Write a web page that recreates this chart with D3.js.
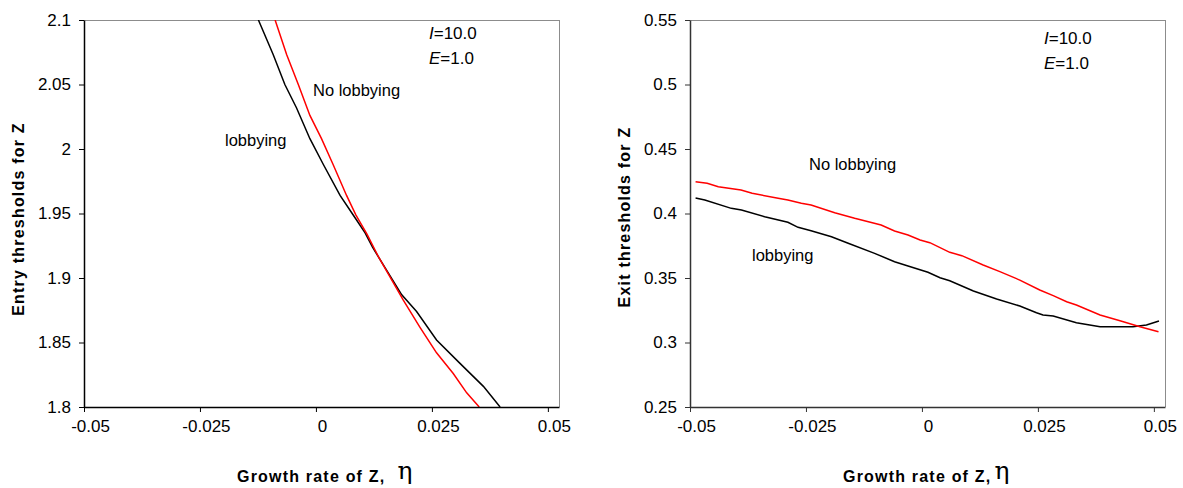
<!DOCTYPE html>
<html>
<head>
<meta charset="utf-8">
<script src="https://cdn.jsdelivr.net/npm/d3@7"></script>
<style>
  html, body { margin: 0; padding: 0; background: #fff; }
  svg { display: block; }
  text { font-family: "Liberation Sans", Arial, sans-serif; fill: #000; }
</style>
</head>
<body>
<svg id="chart" width="1183" height="488"></svg>
<script>
// Growth rate of Z (eta) axis
const etaTicks = [-0.05, -0.025, 0, 0.025, 0.05];
const etaTickLabels = ["-0.05", "-0.025", "0", "0.025", "0.05"];

// Entry thresholds panel
const entryTicks = [1.8, 1.85, 1.9, 1.95, 2.0, 2.05, 2.1];
const entryTickLabels = ["1.8", "1.85", "1.9", "1.95", "2", "2.05", "2.1"];
const entryLobbyEta = [-0.0124, -0.0092, -0.0067, -0.0042, -0.0013, 0.0016, 0.0052, 0.0080, 0.0106, 0.0122, 0.0137, 0.0185, 0.0217, 0.0260, 0.0310, 0.0361, 0.0397];
const entryLobby    = [2.100, 2.073, 2.050, 2.032, 2.008, 1.988, 1.964, 1.949, 1.935, 1.924, 1.915, 1.887, 1.874, 1.852, 1.834, 1.816, 1.800];
const entryNoLobbyEta = [-0.0088, -0.0063, -0.0038, -0.0013, 0.0012, 0.0037, 0.0066, 0.0086, 0.0110, 0.0134, 0.0188, 0.0224, 0.0260, 0.0296, 0.0325, 0.0352];
const entryNoLobby    = [2.100, 2.073, 2.050, 2.026, 2.008, 1.988, 1.964, 1.949, 1.934, 1.917, 1.883, 1.862, 1.842, 1.826, 1.811, 1.800];

// Exit thresholds panel
const exitTicks = [0.25, 0.3, 0.35, 0.4, 0.45, 0.5, 0.55];
const exitTickLabels = ["0.25", "0.3", "0.35", "0.4", "0.45", "0.5", "0.55"];
const exitLobbyEta = [-0.0488, -0.0468, -0.0411, -0.0389, -0.0339, -0.0289, -0.0267, -0.0239, -0.0195, -0.0159, -0.0102, -0.0059, -0.0030, 0.0013, 0.0039, 0.0060, 0.0111, 0.0161, 0.0211, 0.0247, 0.0261, 0.0283, 0.0333, 0.0384, 0.0455, 0.0484, 0.0511];
const exitLobby    = [0.4120, 0.4105, 0.4040, 0.4027, 0.3975, 0.3932, 0.3893, 0.3867, 0.3820, 0.3769, 0.3691, 0.3626, 0.3593, 0.3544, 0.3502, 0.3479, 0.3399, 0.3337, 0.3283, 0.3231, 0.3213, 0.3205, 0.3153, 0.3122, 0.3122, 0.3136, 0.3167];
const exitNoLobbyEta = [-0.0488, -0.0463, -0.0439, -0.0390, -0.0366, -0.0310, -0.0289, -0.0260, -0.0239, -0.0188, -0.0145, -0.0088, -0.0059, -0.0030, -0.0004, 0.0017, 0.0060, 0.0086, 0.0132, 0.0168, 0.0211, 0.0254, 0.0283, 0.0312, 0.0333, 0.0384, 0.0427, 0.0470, 0.0510];
const exitNoLobby    = [0.4247, 0.4234, 0.4208, 0.4182, 0.4157, 0.4118, 0.4105, 0.4079, 0.4066, 0.4006, 0.3963, 0.3911, 0.3864, 0.3833, 0.3795, 0.3774, 0.3699, 0.3673, 0.3601, 0.3549, 0.3484, 0.3407, 0.3363, 0.3316, 0.3291, 0.3213, 0.3169, 0.3122, 0.3084];

const svg = d3.select("#chart");
const zip = (xs, ys) => xs.map((x, i) => ({ x, y: ys[i] }));
const FONT = "Liberation Sans, Arial, sans-serif";

function panel(cfg) {
  const x = d3.scaleLinear().domain([-0.05, 0.0524]).range([cfg.left, cfg.right]);
  const y = d3.scaleLinear().domain(cfg.yDomain).range([407, 20]);
  const g = svg.append("g");

  // plot frame: light top/right edges
  g.append("line").attr("x1", x.range()[0]).attr("x2", x.range()[1])
    .attr("y1", y.range()[1] + 0.5).attr("y2", y.range()[1] + 0.5)
    .attr("stroke", "#8c8c8c").attr("stroke-width", 1);
  g.append("line").attr("x1", x.range()[1] + 0.5).attr("x2", x.range()[1] + 0.5)
    .attr("y1", y.range()[1]).attr("y2", y.range()[0])
    .attr("stroke", "#8c8c8c").attr("stroke-width", 1);

  // clip for the curves
  const clipId = "clip-" + cfg.id;
  svg.append("clipPath").attr("id", clipId).append("rect")
    .attr("x", x.range()[0]).attr("y", y.range()[1])
    .attr("width", x.range()[1] - x.range()[0]).attr("height", y.range()[0] - y.range()[1]);

  const line = d3.line().x(d => x(d.x)).y(d => y(d.y));
  const curves = g.append("g").attr("clip-path", `url(#${clipId})`);
  curves.append("path").datum(cfg.black)
    .attr("d", line).attr("fill", "none").attr("stroke", "#000").attr("stroke-width", 1.5);
  curves.append("path").datum(cfg.red)
    .attr("d", line).attr("fill", "none").attr("stroke", "#ff0000").attr("stroke-width", 1.5);

  // x axis
  const xAxis = d3.axisBottom(x).tickValues(etaTicks)
    .tickFormat((d, i) => etaTickLabels[i]).tickSizeOuter(0).tickSizeInner(5).tickPadding(8);
  const gx = g.append("g").attr("transform", `translate(0,${y.range()[0]})`).call(xAxis);
  gx.select(".domain").attr("stroke", cfg.axisColor).attr("stroke-width", 1.5);
  gx.selectAll(".tick line").attr("stroke", cfg.axisColor);
  gx.selectAll(".tick text").attr("font-size", 17).attr("dx", 6).attr("font-family", FONT);

  // y axis
  const yAxis = d3.axisLeft(y).tickValues(cfg.yTicks)
    .tickFormat((d, i) => cfg.yTickLabels[i]).tickSizeOuter(0).tickSizeInner(5).tickPadding(8);
  const gy = g.append("g").attr("transform", `translate(${x.range()[0]},0)`).call(yAxis);
  gy.select(".domain").attr("stroke", cfg.axisColor).attr("stroke-width", 1.5);
  gy.selectAll(".tick line").attr("stroke", cfg.axisColor);
  gy.selectAll(".tick text").attr("font-size", 17).attr("font-family", FONT);

  // y title
  g.append("text")
    .attr("transform", `translate(${cfg.yTitleX},${cfg.yTitleY}) rotate(-90)`)
    .attr("text-anchor", "middle").attr("dominant-baseline", "central")
    .attr("font-size", 16).attr("font-weight", "bold").attr("letter-spacing", 1.2)
    .text(cfg.yTitle);

  // x title with eta symbol
  const xt = g.append("text").attr("x", cfg.xTitleX).attr("y", 482)
    .attr("font-size", 16).attr("font-weight", "bold").attr("letter-spacing", 1.2);
  xt.append("tspan").text(cfg.xTitle);
  xt.append("tspan").attr("font-size", 25).attr("font-weight", "normal")
    .attr("font-family", "DejaVu Serif, serif").attr("letter-spacing", 0)
    .attr("dx", cfg.etaGap).attr("dy", -3).text("η");

  // parameter notes
  const notes = g.append("g").attr("font-size", 17);
  const t1 = notes.append("text").attr("x", cfg.noteX).attr("y", cfg.noteY);
  t1.append("tspan").attr("font-style", "italic").text("I");
  t1.append("tspan").text("=10.0");
  const t2 = notes.append("text").attr("x", cfg.noteX).attr("y", cfg.noteY + 25);
  t2.append("tspan").attr("font-style", "italic").text("E");
  t2.append("tspan").text("=1.0");

  // curve labels
  g.append("text").attr("x", cfg.noLobbyLabel[0]).attr("y", cfg.noLobbyLabel[1])
    .attr("font-size", 16.5).text("No lobbying");
  g.append("text").attr("x", cfg.lobbyLabel[0]).attr("y", cfg.lobbyLabel[1])
    .attr("font-size", 16.5).text("lobbying");
}

panel({
  id: "entry", left: 84, right: 559, yDomain: [1.8, 2.1],
  yTicks: entryTicks, yTickLabels: entryTickLabels,
  black: zip(entryLobbyEta, entryLobby), red: zip(entryNoLobbyEta, entryNoLobby),
  axisColor: "#000",
  yTitle: "Entry thresholds for Z", yTitleX: 18, yTitleY: 219,
  xTitle: "Growth rate of Z,", xTitleX: 237, etaGap: 12,
  noteX: 429, noteY: 39,
  noLobbyLabel: [313, 96], lobbyLabel: [225, 146]
});

panel({
  id: "exit", left: 690, right: 1165, yDomain: [0.25, 0.55],
  yTicks: exitTicks, yTickLabels: exitTickLabels,
  black: zip(exitLobbyEta, exitLobby), red: zip(exitNoLobbyEta, exitNoLobby),
  axisColor: "#333",
  yTitle: "Exit thresholds for Z", yTitleX: 624, yTitleY: 217,
  xTitle: "Growth rate of Z,", xTitleX: 843, etaGap: 3,
  noteX: 1044, noteY: 44,
  noLobbyLabel: [809, 170], lobbyLabel: [752, 261]
});
</script>
</body>
</html>
